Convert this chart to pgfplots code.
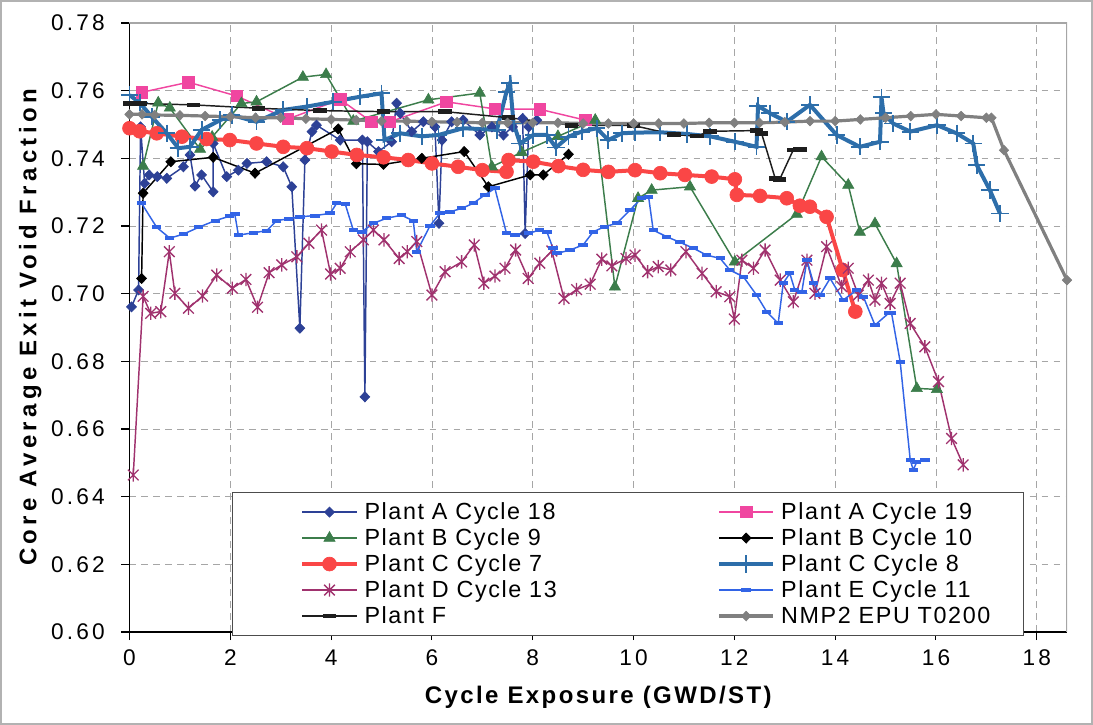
\documentclass[border=0pt]{standalone}
\usepackage{fontspec}
\setmainfont{Liberation Sans}
\newfontfamily\tickfont[LetterSpace=14]{Liberation Sans}
\newfontfamily\xlblfont[LetterSpace=10]{Liberation Sans}
\newfontfamily\ylblfont[LetterSpace=18]{Liberation Sans}
\newfontfamily\legfont[LetterSpace=7]{Liberation Sans}
\usepackage{pgfplots}
\pgfplotsset{compat=1.18}

\definecolor{cA18}{RGB}{45,65,150}
\definecolor{cA19}{RGB}{240,70,160}
\definecolor{cB9}{RGB}{60,125,75}
\definecolor{cB10}{RGB}{0,0,0}
\definecolor{cC7}{RGB}{250,70,70}
\definecolor{cC8}{RGB}{45,110,170}
\definecolor{cD13}{RGB}{160,50,110}
\definecolor{cE11}{RGB}{50,100,230}
\definecolor{cF}{RGB}{30,30,30}
\definecolor{cN}{RGB}{128,128,128}

\pgfdeclareplotmark{xstar}{%
  \pgfpathmoveto{\pgfqpoint{0pt}{\pgfplotmarksize}}%
  \pgfpathlineto{\pgfqpoint{0pt}{-\pgfplotmarksize}}%
  \pgfpathmoveto{\pgfqpoint{-0.8\pgfplotmarksize}{-0.8\pgfplotmarksize}}%
  \pgfpathlineto{\pgfqpoint{0.8\pgfplotmarksize}{0.8\pgfplotmarksize}}%
  \pgfpathmoveto{\pgfqpoint{-0.8\pgfplotmarksize}{0.8\pgfplotmarksize}}%
  \pgfpathlineto{\pgfqpoint{0.8\pgfplotmarksize}{-0.8\pgfplotmarksize}}%
  \pgfusepathqstroke}

\begin{document}
\begin{tikzpicture}
\useasboundingbox (-97.125pt,-69.75pt) rectangle (722.625pt,474pt);
\draw[gray!60, line width=1pt] (-96.4pt,-69pt) rectangle (721.9pt,473.25pt);
\begin{axis}[
  at={(0pt,0pt)}, anchor=south west,
  scale only axis, width=703.125pt, height=456.75pt,
  xmin=0, xmax=18.6, ymin=0.6, ymax=0.78,
  xtick={0,2,...,18},
  ytick={0.6,0.62,0.64,0.66,0.68,0.7,0.72,0.74,0.76,0.78},
  yticklabel style={xshift=-9pt, /pgf/number format/.cd, fixed, fixed zerofill, precision=2},
  /pgf/number format/assume math mode=true,
  ticklabel style={font=\tickfont\fontsize{17pt}{19pt}\selectfont},
  xticklabel style={yshift=-4pt},
  axis x line*=bottom, axis y line*=left,
  axis line style={black, line width=1pt, -},
  tick align=outside, major tick length=6pt, tick style={black, line width=0.8pt},
  grid=major, major grid style={gray!70, dash pattern=on 5pt off 4pt, line width=0.6pt},
  xlabel={Cycle Exposure (GWD/ST)},
  ylabel={Core Average Exit Void Fraction},
  xlabel style={font=\xlblfont\bfseries\fontsize{18pt}{20pt}\selectfont, at={(axis description cs:0.5,-0.107)}, anchor=center},
  ylabel style={font=\ylblfont\bfseries\fontsize{18pt}{20pt}\selectfont, at={(axis description cs:-0.106,0.5)}, anchor=center},
  legend columns=2,
  legend cell align=left,
  legend image code/.code={\path[draw=none,fill=none] (-45pt,-2pt) rectangle (-44pt,2pt);
    \draw[mark repeat=2,mark phase=2,#1] plot coordinates {(0pt,0pt) (20.25pt,0pt) (40.5pt,0pt)};},
  legend style={at={(axis description cs:0.1093,-0.007)}, anchor=south west,
    draw=gray!60!black, line width=0.8pt, fill=white,
    inner xsep=7.5pt, inner ysep=5pt,
    font=\legfont\fontsize{17.5pt}{19pt}\selectfont,
    row sep=0pt, column sep=0pt,
    nodes={inner xsep=4.5pt, inner ysep=0pt, minimum height=19.5pt, text width=170pt, align=left},
    /tikz/column 2/.style={column sep=46.5pt}},
]
\addplot[draw=cA18, line width=1.1pt, mark=diamond*, mark size=3.8pt, mark options={fill=cA18, draw=cA18, xscale=1.3, line width=0.5pt}] coordinates {
(0.04,0.6961)(0.18,0.7011)(0.22,0.7493)(0.3,0.7326)(0.39,0.7351)(0.55,0.7346)(0.74,0.7341)(1.07,0.7375)(1.2,0.741)(1.3,0.7318)(1.43,0.7351)(1.66,0.7301)(1.66,0.7444)(1.93,0.7346)(2.16,0.7365)(2.33,0.7385)(2.72,0.739)(3.05,0.7375)(3.22,0.7316)(3.38,0.6898)(3.48,0.7395)(3.62,0.7479)(3.71,0.7498)(4.18,0.7454)(4.62,0.7454)(4.67,0.6695)(4.72,0.7449)(4.94,0.742)(5.2,0.7449)(5.3,0.7563)(5.37,0.7533)(5.6,0.7479)(5.83,0.7508)(6.06,0.7493)(6.14,0.7208)(6.2,0.7454)(6.39,0.7508)(6.62,0.7513)(6.95,0.7469)(7.19,0.7493)(7.42,0.7469)(7.6,0.7493)(7.8,0.7518)(7.85,0.7178)(7.92,0.7493)(8.08,0.7513)
};
\addlegendentry{Plant A Cycle 18}
\addplot[draw=cA19, line width=1.1pt, mark=square*, mark size=4.3pt, mark options={fill=cA19, draw=cA19, line width=0.5pt}] coordinates {
(0.24,0.7595)(1.17,0.7625)(2.13,0.7584)(3.14,0.7516)(4.18,0.7574)(4.8,0.7508)(5.17,0.7508)(6.29,0.7567)(7.25,0.7546)(8.14,0.7545)(9.04,0.7513)
};
\addlegendentry{Plant A Cycle 19}
\addplot[draw=cB9, line width=1.1pt, mark=triangle*, mark size=4.8pt, mark options={fill=cB9, draw=cB9, line width=0.5pt}] coordinates {
(0.27,0.7377)(0.57,0.7564)(0.8,0.7549)(1.4,0.7427)(1.64,0.7463)(2.22,0.7562)(2.52,0.7567)(3.44,0.764)(3.9,0.7648)(4.44,0.751)(5.93,0.7573)(6.95,0.7593)(7.19,0.7375)(7.78,0.7418)(8.5,0.7465)(9.24,0.7513)(9.63,0.702)(10.09,0.7282)(10.36,0.7306)(11.12,0.7316)(12.01,0.7094)(13.24,0.7235)(13.73,0.7405)(14.26,0.7321)(14.49,0.7182)(14.79,0.7207)(15.22,0.7089)(15.62,0.672)(16.02,0.6717)
};
\addlegendentry{Plant B Cycle 9}
\addplot[draw=cB10, line width=1.1pt, mark=diamond*, mark size=3.8pt, mark options={fill=cB10, draw=cB10, xscale=1.3, line width=0.5pt}] coordinates {
(0.24,0.7045)(0.27,0.7297)(0.82,0.739)(1.66,0.7403)(2.49,0.7356)(4.14,0.7487)(4.5,0.7384)(5.04,0.7382)(5.8,0.74)(6.64,0.742)(7.12,0.7316)(7.95,0.7351)(8.21,0.7351)(8.71,0.7412)
};
\addlegendentry{Plant B Cycle 10}
\addplot[draw=cC7, line width=3pt, mark=*, mark size=5.2pt, mark options={fill=cC7, draw=cC7, line width=0.5pt}] coordinates {
(0,0.7489)(0.2,0.748)(0.54,0.7474)(1.04,0.7464)(1.53,0.7457)(1.99,0.7454)(2.52,0.7444)(3.05,0.7434)(3.52,0.743)(4.01,0.742)(4.51,0.741)(5.04,0.7403)(5.53,0.7395)(6.0,0.7385)(6.52,0.7375)(7.0,0.7365)(7.48,0.736)(7.52,0.7395)(8.01,0.739)(8.51,0.7377)(9.0,0.7366)(9.5,0.736)(10.03,0.7365)(10.53,0.7356)(11.02,0.7351)(11.55,0.7346)(12.01,0.7338)(12.05,0.7292)(12.51,0.7289)(13.04,0.7282)(13.3,0.726)(13.5,0.7257)(13.83,0.7227)(14.15,0.707)(14.4,0.6947)
};
\addlegendentry{Plant C Cycle 7}
\addplot[draw=cC8, line width=3pt, mark=+, mark size=6.5pt, mark options={draw=cC8, line width=1.4pt}] coordinates {
(0,0.7587)(0.2,0.7565)(0.44,0.7523)(0.74,0.7474)(0.97,0.743)(1.2,0.7434)(1.43,0.7484)(1.8,0.7513)(2.03,0.7528)(2.52,0.7508)(3.05,0.7543)(3.52,0.7553)(4.04,0.7567)(4.57,0.7582)(5.0,0.7592)(5.06,0.7454)(5.37,0.7474)(5.8,0.7465)(6.13,0.7469)(6.62,0.7489)(7.29,0.7484)(7.48,0.7597)(7.55,0.7622)(7.62,0.7503)(7.75,0.7444)(8.01,0.7469)(8.28,0.7469)(8.46,0.7432)(8.71,0.7464)(8.97,0.7479)(9.27,0.7489)(9.5,0.7454)(9.77,0.7474)(10.03,0.7476)(10.53,0.7477)(11.06,0.7472)(11.52,0.7465)(12.01,0.7449)(12.44,0.7434)(12.47,0.7555)(12.71,0.7533)(13.04,0.7508)(13.5,0.7558)(14.03,0.7469)(14.49,0.7434)(14.89,0.7449)(14.92,0.758)(14.96,0.7533)(15.15,0.7503)(15.49,0.7479)(16.02,0.7498)(16.41,0.7474)(16.74,0.7444)(16.81,0.738)(17.07,0.7306)(17.27,0.7237)
};
\addlegendentry{Plant C Cycle 8}
\addplot[draw=cD13, line width=1.1pt, mark=xstar, mark size=5pt, mark options={draw=cD13, line width=1pt}] coordinates {
(0.075,0.6464)(0.27,0.6992)(0.42,0.6942)(0.62,0.6947)(0.79,0.7124)(0.9,0.7001)(1.17,0.6957)(1.45,0.6993)(1.73,0.7055)(2.04,0.7016)(2.31,0.7042)(2.54,0.696)(2.77,0.7062)(3.02,0.7085)(3.32,0.7109)(3.56,0.7149)(3.81,0.7188)(3.99,0.7058)(4.18,0.7075)(4.38,0.7124)(4.64,0.7159)(4.84,0.7188)(5.05,0.7159)(5.35,0.7104)(5.51,0.7124)(5.7,0.7154)(6.0,0.6996)(6.26,0.7065)(6.59,0.7094)(6.84,0.7144)(7.03,0.7031)(7.25,0.7052)(7.45,0.7075)(7.66,0.7129)(7.91,0.7045)(8.14,0.709)(8.38,0.7126)(8.62,0.6986)(8.87,0.7012)(9.14,0.7028)(9.37,0.7102)(9.57,0.7082)(9.85,0.7104)(10.03,0.7114)(10.28,0.7065)(10.49,0.708)(10.74,0.707)(11.04,0.7124)(11.36,0.706)(11.64,0.7006)(11.91,0.6991)(12.0,0.6925)(12.15,0.7099)(12.38,0.7075)(12.61,0.7129)(12.91,0.704)(13.17,0.6976)(13.44,0.7099)(13.6,0.7001)(13.83,0.7139)(14.13,0.7021)(14.26,0.7075)(14.46,0.6996)(14.66,0.704)(14.79,0.6981)(14.92,0.7031)(15.09,0.6971)(15.29,0.7031)(15.49,0.6912)(15.78,0.6843)(16.05,0.674)(16.31,0.6572)(16.54,0.6494)
};
\addlegendentry{Plant D Cycle 13}
\addplot[draw=cE11, line width=1.1pt, mark=-, mark size=3.5pt, mark options={draw=cE11, line width=3pt}] coordinates {
(0.24,0.7267)(0.54,0.7196)(0.8,0.7164)(1.07,0.7176)(1.37,0.7196)(1.7,0.7216)(1.99,0.7229)(2.09,0.7235)(2.16,0.7173)(2.46,0.718)(2.72,0.7186)(2.92,0.7216)(3.15,0.7221)(3.38,0.7227)(3.68,0.7231)(3.98,0.7237)(4.11,0.7267)(4.28,0.7265)(4.44,0.7188)(4.61,0.7183)(4.84,0.7208)(5.1,0.7223)(5.4,0.7232)(5.63,0.7215)(5.7,0.7124)(5.96,0.72)(6.16,0.7238)(6.36,0.7242)(6.59,0.7252)(6.82,0.7267)(7.05,0.7292)(7.25,0.7311)(7.48,0.7178)(7.65,0.7173)(7.91,0.7178)(8.14,0.7188)(8.28,0.7183)(8.4,0.7135)(8.48,0.7119)(8.74,0.7129)(9.0,0.7144)(9.2,0.7183)(9.43,0.7198)(9.67,0.7208)(9.93,0.7247)(10.16,0.7282)(10.3,0.7285)(10.39,0.7188)(10.66,0.7168)(10.92,0.7152)(11.19,0.7134)(11.45,0.7114)(11.72,0.7104)(11.91,0.707)(12.18,0.705)(12.44,0.6996)(12.64,0.6947)(12.87,0.6912)(12.97,0.7031)(13.1,0.706)(13.2,0.7011)(13.34,0.7006)(13.44,0.7099)(13.57,0.7031)(13.7,0.6996)(13.9,0.7045)(14.16,0.6981)(14.43,0.7011)(14.56,0.6991)(14.79,0.6907)(15.06,0.6942)(15.12,0.6942)(15.29,0.6799)(15.49,0.6508)(15.55,0.6479)(15.62,0.6503)(15.78,0.6508)
};
\addlegendentry{Plant E Cycle 11}
\addplot[draw=cF, line width=1.1pt, mark=-, mark size=5pt, mark options={draw=cF, line width=3.5pt}] coordinates {
(0,0.7562)(0.21,0.7562)(1.27,0.7558)(2.56,0.7548)(3.78,0.7541)(5.04,0.7538)(6.26,0.7538)(7.52,0.752)(8.77,0.7498)(10.0,0.7497)(10.8,0.747)(11.26,0.7466)(11.52,0.748)(12.44,0.7482)(12.54,0.7474)(12.81,0.7341)(12.9,0.7338)(13.17,0.7425)(13.3,0.7427)
};
\addlegendentry{Plant F}
\addplot[draw=cN, line width=2.4pt, mark=diamond*, mark size=3.6pt, mark options={fill=cN, draw=cN, xscale=1.3, line width=0.5pt}] coordinates {
(0,0.753)(0.25,0.753)(0.5,0.7528)(1,0.7527)(1.5,0.7525)(2,0.7523)(2.5,0.752)(3,0.752)(3.5,0.7517)(4,0.7515)(4.5,0.7513)(5,0.751)(5.5,0.751)(6,0.7508)(6.5,0.7507)(7,0.7505)(7.5,0.7505)(8,0.7505)(8.5,0.7505)(9,0.7503)(9.5,0.7503)(10,0.7503)(10.5,0.7503)(11,0.7503)(11.5,0.7505)(12,0.7505)(12.5,0.7505)(13,0.7507)(13.5,0.751)(14,0.751)(14.5,0.7515)(15,0.752)(15.5,0.7525)(16,0.753)(16.5,0.7525)(17,0.752)(17.1,0.752)(17.35,0.7424)(18.6,0.704)
};
\addlegendentry{NMP2 EPU T0200}
\draw[gray!70, line width=0.8pt] (rel axis cs:0,1) -- (rel axis cs:1,1) -- (rel axis cs:1,0);
\end{axis}
\end{tikzpicture}
\end{document}
